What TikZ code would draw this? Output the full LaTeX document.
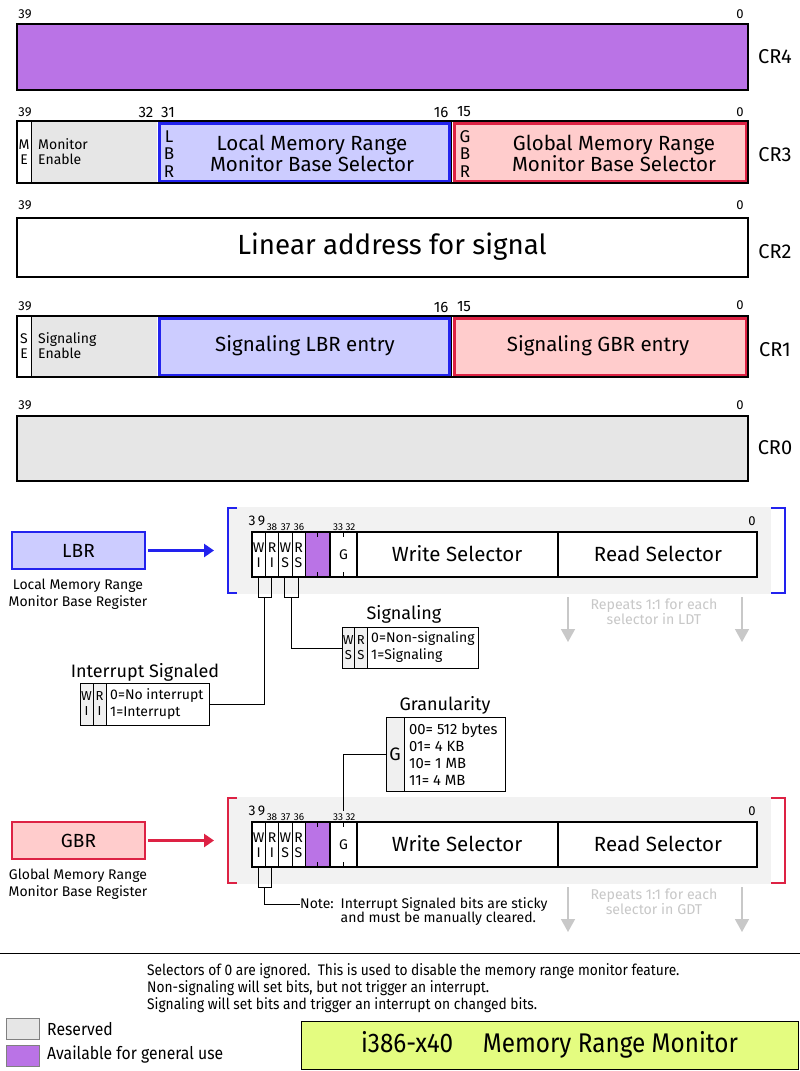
\documentclass[tikz,border=0pt]{standalone}
\usepackage{fontspec}
\setmainfont{Fira Sans}
\newfontfamily\condfont[FakeStretch=0.9]{Fira Sans}
\usetikzlibrary{arrows.meta}
\definecolor{purp}{HTML}{BA73E6}
\definecolor{resgray}{HTML}{E6E6E6}
\definecolor{cellgray}{HTML}{F0F0F0}
\definecolor{bggray}{HTML}{F2F2F2}
\definecolor{lblue}{HTML}{CCCCFF}
\definecolor{bblue}{HTML}{2222EE}
\definecolor{lpink}{HTML}{FFCCCC}
\definecolor{rred}{HTML}{DD2244}
\definecolor{ltxt}{HTML}{C8C8C8}
\definecolor{ygreen}{HTML}{E4FC80}
\tikzset{
  t9/.style={font=\fontsize{10}{11}\selectfont, inner sep=0},
  t12/.style={font=\fontsize{13}{14}\selectfont, inner sep=0},
  t13/.style={font=\fontsize{14}{15}\selectfont, inner sep=0},
  t14/.style={font=\fontsize{15}{16}\selectfont, inner sep=0},
  t17/.style={font=\fontsize{18}{19}\selectfont, inner sep=0},
  t19/.style={font=\fontsize{20.5}{21}\selectfont, inner sep=0},
  crlab/.style={font=\fontsize{20}{20}\selectfont, inner sep=0},
  vlet/.style={font=\fontsize{14}{15}\selectfont, inner sep=0, align=center},
  vbig/.style={font=\fontsize{17}{17.5}\selectfont, inner sep=0, align=center},
  frame/.style={draw, line width=2},
  thin/.style={line width=1},
  boxnode/.style={draw, line width=1, anchor=north west, inner sep=0},
}
\begin{document}
\begin{tikzpicture}[x=1pt,y=-1pt]
\useasboundingbox (0,0) rectangle (800,1071);
\fill[white] (0,0) rectangle (800,1071);

% ---------------- CR4
\draw[frame, fill=purp] (17,24) rectangle (748,90);
\node[t12] (c4h) at (25,14) {39};
\node[t12] (c4l) at (740,14) {0};
\node[crlab] (cr4) at (775,57) {CR4};

% ---------------- CR3
\fill[white] (17,121) rectangle (748,183);
\fill[resgray] (31,121) rectangle (157,183);
\draw[thin] (31,121) -- (31,183);
\draw[bblue, line width=3, fill=lblue] (159,123) rectangle (449.5,181);
\draw[rred, line width=3, fill=lpink] (454,123) rectangle (746,181);
\draw[line width=1.5] (451.5,121) -- (451.5,183);
\draw[frame] (17,121) rectangle (748,183);
\node[vlet] (me) at (24,152) {M\\E};
\node[t13, anchor=west, align=left] (mon) at (38,152) {Monitor\\Enable};
\node[vbig] (lbrv) at (169,154) {L\\B\\R};
\node[t19, align=center] (lmr) at (312,153) {Local Memory Range\\Monitor Base Selector};
\node[vbig] (gbrv) at (465,154) {G\\B\\R};
\node[t19, align=center] (gmr) at (614,153) {Global Memory Range\\Monitor Base Selector};
\node[t12] (c3a) at (25,112) {39};
\node[t14] (c3b) at (146,112) {32};
\node[t14] (c3c) at (168,112) {31};
\node[t14] (c3d) at (441,112) {16};
\node[t14] (c3e) at (464,112) {15};
\node[t12] (c3f) at (740,112) {0};
\node[crlab] (cr3) at (775,155) {CR3};

% ---------------- CR2
\draw[frame, fill=white] (17,218) rectangle (748,277);
\node[font=\fontsize{27.7}{28}\selectfont, inner sep=0] (lin) at (392,247) {Linear address for signal};
\node[t12] (c2h) at (25,205) {39};
\node[t12] (c2l) at (740,205) {0};
\node[crlab] (cr2) at (775,252) {CR2};

% ---------------- CR1
\fill[white] (17,316) rectangle (748,377);
\fill[resgray] (31,316) rectangle (157,377);
\draw[thin] (31,316) -- (31,377);
\draw[bblue, line width=3, fill=lblue] (159,318) rectangle (449.5,375);
\draw[rred, line width=3, fill=lpink] (454,318) rectangle (746,375);
\draw[line width=1.5] (451.5,316) -- (451.5,377);
\draw[frame] (17,316) rectangle (748,377);
\node[vlet] (se) at (24,346) {S\\E};
\node[t13, anchor=west, align=left] (sig) at (38,346) {Signaling\\Enable};
\node[t19] (slbr) at (305,346) {Signaling LBR entry};
\node[t19] (sgbr) at (598,346) {Signaling GBR entry};
\node[t12] (c1a) at (25,306) {39};
\node[t14] (c1b) at (441,307) {16};
\node[t14] (c1c) at (464,307) {15};
\node[t12] (c1d) at (740,305) {0};
\node[crlab] (cr1) at (775,350) {CR1};

% ---------------- CR0
\draw[frame, fill=resgray] (17,416) rectangle (748,481);
\node[t12] (c0h) at (25,405) {39};
\node[t12] (c0l) at (740,405) {0};
\node[crlab] (cr0) at (775,448) {CR0};

% ---------------- LBR / GBR blocks
\foreach \dy/\col/\fcol/\nm/\tb/\cap in {0/bblue/lblue/LBR/LDT/Local, 290/rred/lpink/GBR/GDT/Global}{
\begin{scope}[yshift=-\dy pt]
  \fill[bggray] (228,507) rectangle (771,594);
  \draw[\col, line width=2.5] (237,508) -- (228,508) -- (228,593) -- (237,593);
  \draw[\col, line width=2.5] (771,508) -- (785,508) -- (785,593) -- (771,593);
  \node[draw=\col, fill=\fcol, line width=2, minimum width=133, minimum height=37, inner sep=0,
        font=\fontsize{19}{20}\selectfont] (reg\nm) at (78.5,550.5) {\nm};
  \node[align=center, inner sep=0, font=\fontsize{14}{17}\selectfont] (cap\nm) at (78,594) {\cap\ Memory Range\\Monitor Base Register};
  \coordinate (arr\nm) at (214,550.5);
  \draw[\col, line width=2.5, -{Triangle[length=10,width=13]}] ([xshift=2pt]reg\nm.east) -- (arr\nm);
  % table
  \fill[white] (252,532) rectangle (757,577);
  \fill[purp] (305,532) rectangle (330,577);
  \foreach \xx in {265.5,278.5,292,305}{\draw[thin] (\xx,532) -- (\xx,577);}
  \draw[line width=1.5] (330,532) -- (330,577);
  \draw[line width=2] (357,532) -- (357,577);
  \draw[line width=2] (558,532) -- (558,577);
  \foreach \xx in {317.5,343.5}{\draw[thin] (\xx,532) -- (\xx,537); \draw[thin] (\xx,572) -- (\xx,577);}
  \draw[frame] (252,532) rectangle (757,577);
  \node[vlet] (wi\nm) at (258.7,555) {W\\I};
  \node[vlet] (ri\nm) at (272,555) {R\\I};
  \node[vlet] (ws\nm) at (285.3,555) {W\\S};
  \node[vlet] (rs\nm) at (298.5,555) {R\\S};
  \node[t13] (g\nm) at (343.5,555) {G};
  \node[t19] (wsel\nm) at (457,554) {Write Selector};
  \node[t19] (rsel\nm) at (658,554) {Read Selector};
  \node[font=\fontsize{14}{14}\selectfont, inner sep=0] (b39\nm) at (257,521) {3\,9};
  \node[t9] (b38\nm) at (272,527) {38};
  \node[t9] (b37\nm) at (285.5,527) {37};
  \node[t9] (b36\nm) at (299,527) {36};
  \node[t9] (b33\nm) at (338,527) {33};
  \node[t9] (b32\nm) at (350.5,527) {32};
  \node[t12] (b0\nm) at (752,521) {0};
  % interrupt bit bracket
  \draw[thin] (258,577) -- (258,597) -- (271,597) -- (271,577);
  \coordinate (ib\nm) at (264.5,597);
  % repeats
  \node[text=ltxt, align=center, inner sep=0, font=\fontsize{14.2}{15}\selectfont] (rep\nm) at (654,612) {Repeats 1:1 for each\\selector in \tb};
  \coordinate (ra1\nm) at (568,597); \coordinate (rb1\nm) at (568,642);
  \coordinate (ra2\nm) at (742,597); \coordinate (rb2\nm) at (742,642);
  \draw[ltxt, line width=1.5, -{Triangle[length=13,width=14]}] (ra1\nm) -- (rb1\nm);
  \draw[ltxt, line width=1.5, -{Triangle[length=13,width=14]}] (ra2\nm) -- (rb2\nm);
\end{scope}
}

% signaling bracket (LBR)
\draw[thin] (284,577) -- (284,597) -- (298,597) -- (298,577);
\coordinate (sbLBR) at (291,597);

% Signaling box
\node[t17] (sigt) at (404,614) {Signaling};
\fill[cellgray] (342,627) rectangle (367,668);
\node[boxnode, minimum width=136, minimum height=41] (sigbox) at (342,627) {};
\draw[thin] (354.5,627) -- (354.5,668);
\draw[thin] (367,627) -- (367,668);
\node[vlet, font=\fontsize{13}{15}\selectfont] (sws) at (348.3,647.5) {W\\S};
\node[vlet, font=\fontsize{13}{15}\selectfont] (srs) at (360.8,647.5) {R\\S};
\node[anchor=west, align=left, inner sep=0, font=\fontsize{14}{17}\selectfont] (sigtxt) at (371,647.5) {0=Non-signaling\\1=Signaling};
\draw[thin] (sbLBR) |- (sigbox.west);

% Interrupt box
\node[t17] (intt) at (145,672) {Interrupt Signaled};
\fill[cellgray] (80,683) rectangle (106,725);
\node[boxnode, minimum width=129, minimum height=42] (intbox) at (80,683) {};
\draw[thin] (93,683) -- (93,725);
\draw[thin] (106,683) -- (106,725);
\node[vlet, font=\fontsize{13}{15}\selectfont] (iwi) at (86.5,704) {W\\I};
\node[vlet, font=\fontsize{13}{15}\selectfont] (iri) at (99.5,704) {R\\I};
\node[anchor=west, align=left, inner sep=0, font=\fontsize{14}{17}\selectfont] (inttxt) at (110,704) {0=No interrupt\\1=Interrupt};
\draw[thin] (ibLBR) |- (intbox.east);

% Granularity box
\node[t17] (grt) at (445,705) {Granularity};
\fill[cellgray] (386,717) rectangle (404,791);
\node[boxnode, minimum width=119, minimum height=74] (granbox) at (386,717) {};
\draw[thin] (404,717) -- (404,791);
\node[t17] (gg) at (395,754) {G};
\node[anchor=west, align=left, inner sep=0, font=\fontsize{14.8}{17}\selectfont] (grtxt) at (409,754.5) {00= 512 bytes\\01= 4 KB\\10= 1 MB\\11= 4 MB};
\coordinate (gtgt) at (343.5,811);
\draw[thin] (granbox.west) -| (gtgt);

% Note (GBR)
\node[t13, anchor=west] (note) at (300,904) {Note:};
\node[anchor=north west, align=left, inner sep=0, font=\fontsize{14}{14}\selectfont] (notetxt) at (340.5,897) {Interrupt Signaled bits are sticky\\and must be manually cleared.};
\draw[thin] (ibGBR) |- (note.west);

% separator
\draw[line width=1] (0,953) -- (800,953);

% bottom notes
\node[anchor=west, align=left, inner sep=0, font=\condfont\fontsize{15.3}{17}\selectfont] (notes) at (147,988)
  {Selectors of 0 are ignored.\ \ This is used to disable the memory range monitor feature.\\Non-signaling will set bits, but not trigger an interrupt.\\Signaling will set bits and trigger an interrupt on changed bits.};

% legend
\draw[draw=gray, fill=resgray] (6,1018) rectangle (39,1039);
\draw[draw=gray, fill=purp] (6,1045) rectangle (39,1066);
\node[anchor=west, inner sep=0, font=\condfont\fontsize{17.5}{18}\selectfont] (lres) at (47,1029) {Reserved};
\node[anchor=west, inner sep=0, font=\condfont\fontsize{17.5}{18}\selectfont] (lavl) at (47,1055) {Available for general use};

% title
\node[draw, line width=1, fill=ygreen, minimum width=497, minimum height=48, inner sep=0,
      font=\condfont\fontsize{27}{28}\selectfont] (title) at (549.5,1045) {i386-x40\hspace{1.1em}Memory Range Monitor};
\end{tikzpicture}
\end{document}
